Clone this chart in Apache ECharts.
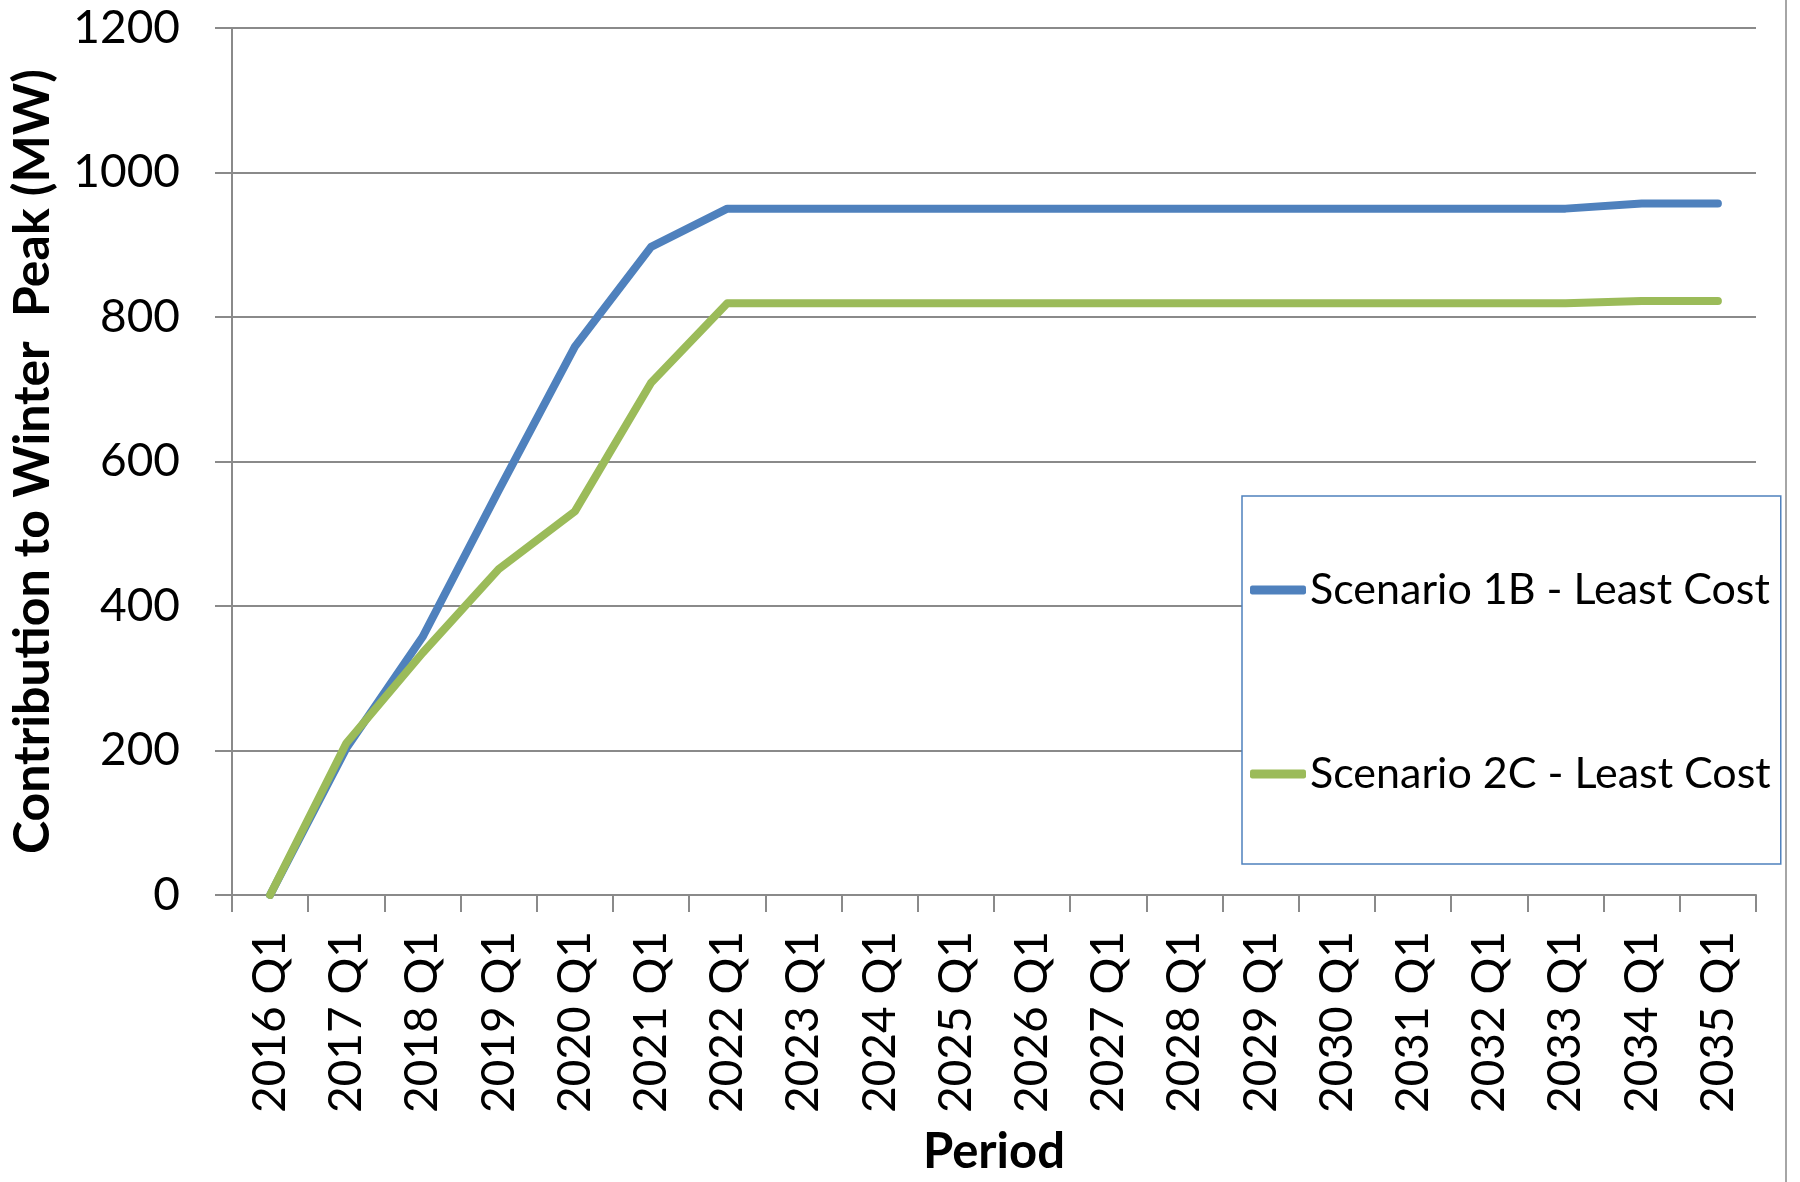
<!DOCTYPE html>
<html>
<head>
<meta charset="utf-8">
<script src="https://cdn.jsdelivr.net/npm/echarts@6/dist/echarts.min.js"></script>
<style>
  html, body { margin: 0; padding: 0; background: #ffffff; }
  #chart { width: 1800px; height: 1182px; }
</style>
</head>
<body>
<div id="chart"></div>
<script>
// Quarterly periods on the horizontal axis
const periods = [
  '2016 Q1', '2017 Q1', '2018 Q1', '2019 Q1', '2020 Q1',
  '2021 Q1', '2022 Q1', '2023 Q1', '2024 Q1', '2025 Q1',
  '2026 Q1', '2027 Q1', '2028 Q1', '2029 Q1', '2030 Q1',
  '2031 Q1', '2032 Q1', '2033 Q1', '2034 Q1', '2035 Q1'
];

// Contribution to winter peak, MW
const scenario1B = [0, 203, 357, 560, 759, 897, 950, 950, 950, 950,
                    950, 950, 950, 950, 950, 950, 950, 950, 957, 957];
const scenario2C = [0, 210, 335, 451, 531, 709, 819, 819, 819, 819,
                    819, 819, 819, 819, 819, 819, 819, 819, 822, 822];

const seriesNames = ['Scenario 1B - Least Cost', 'Scenario 2C - Least Cost'];
const yTicks = { min: 0, max: 1200, interval: 200 };

const FONT = 'Lato, "Open Sans", sans-serif';
const GRID_GRAY = '#8a8a8a';
const BLUE = '#4F81BD';
const GREEN = '#9BBB59';

const chart = echarts.init(document.getElementById('chart'), null, { renderer: 'canvas' });

chart.setOption({
  animation: false,
  backgroundColor: '#ffffff',
  textStyle: { fontFamily: FONT, color: '#000' },
  grid: { left: 230, right: 44, top: 28, bottom: 285, containLabel: false },
  xAxis: {
    type: 'category',
    data: periods,
    boundaryGap: true,
    name: 'Period',
    nameLocation: 'middle',
    nameGap: 233,
    nameTextStyle: { fontFamily: FONT, fontWeight: 'bold', fontSize: 49, color: '#000' },
    axisLine: { show: true, lineStyle: { color: GRID_GRAY, width: 2 } },
    axisTick: { show: true, length: 17, inside: false, alignWithLabel: false, interval: 0,
                lineStyle: { color: GRID_GRAY, width: 2 } },
    axisLabel: { interval: 0, rotate: 90, margin: 36, fontSize: 46, fontFamily: FONT, color: '#000' },
    splitLine: { show: false }
  },
  yAxis: {
    type: 'value',
    min: yTicks.min,
    max: yTicks.max,
    interval: yTicks.interval,
    name: 'Contribution to Winter  Peak (MW)',
    nameLocation: 'middle',
    nameGap: 174,
    nameTextStyle: { fontFamily: FONT, fontWeight: 'bold', fontSize: 50, color: '#000' },
    axisLine: { show: true, lineStyle: { color: GRID_GRAY, width: 2 } },
    axisTick: { show: true, length: 17, inside: false, lineStyle: { color: GRID_GRAY, width: 2 } },
    axisLabel: { margin: 52, fontSize: 46, fontFamily: FONT, color: '#000',
                 formatter: (v) => String(v) },
    splitLine: { show: true, lineStyle: { color: GRID_GRAY, width: 2 } }
  },
  legend: {
    orient: 'vertical',
    left: 1242,
    top: 496,
    padding: [66, 10, 62, 8],
    itemGap: 128,
    itemWidth: 56,
    itemHeight: 9,
    icon: 'roundRect',
    borderColor: BLUE,
    borderWidth: 1.5,
    backgroundColor: '#ffffff',
    textStyle: { fontFamily: FONT, fontSize: 43, color: '#000', lineHeight: 56, padding: [0, 0, 0, -1] },
    data: seriesNames
  },
  graphic: [
    {
      type: 'line',
      shape: { x1: 1786, y1: 0, x2: 1786, y2: 1182 },
      style: { stroke: '#a6a6a6', lineWidth: 2 },
      silent: true
    }
  ],
  series: [
    {
      name: seriesNames[0],
      type: 'line',
      data: scenario1B,
      symbol: 'none',
      lineStyle: { color: BLUE, width: 8, cap: 'round', join: 'round' },
      itemStyle: { color: BLUE },
      z: 2
    },
    {
      name: seriesNames[1],
      type: 'line',
      data: scenario2C,
      symbol: 'none',
      lineStyle: { color: GREEN, width: 8, cap: 'round', join: 'round' },
      itemStyle: { color: GREEN },
      z: 3
    }
  ]
});
</script>
</body>
</html>
